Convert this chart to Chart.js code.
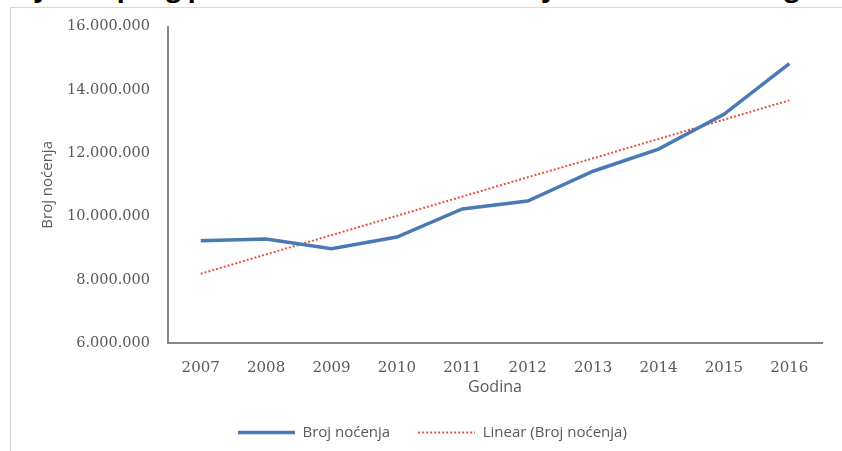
<!DOCTYPE html>
<html>
<head>
<meta charset="utf-8">
<script src="https://cdn.jsdelivr.net/npm/chart.js@4/dist/chart.umd.min.js"></script>
<style>
  body { margin: 0; background: #fff; overflow: hidden; }
  #wrap { position: relative; width: 842px; height: 451px; overflow: hidden; }
  #frame { position: absolute; left: 10px; top: 7px; width: 900px; height: 500px; border: 1px solid #d9d9d9; }
  #naslov { position: absolute; left: -120px; width: 1060px; top: -31px; line-height: 30px;
    text-align: center; font: bold 26px 'Open Sans', sans-serif; color: #000; white-space: nowrap; }
  canvas { position: absolute; left: 0; top: 0; }
</style>
</head>
<body>
<div id="wrap">
  <div id="frame"></div>
  <div id="naslov">Kretanje ukupnog prometa turista u Hrvatskoj od 2007. do 2016. godine</div>
  <canvas id="grafNocenja" width="842" height="451"></canvas>
</div>
<script>
// godine i broj noćenja (očitano sa slike)
const godine = ['2007', '2008', '2009', '2010', '2011', '2012', '2013', '2014', '2015', '2016'];
const brojNocenja = [9230000, 9290000, 8980000, 9350000, 10240000, 10490000, 11430000, 12130000, 13230000, 14830000];
// linearni trend kako ga crta Excel
const linearni = [8190000, 8800000, 9410000, 10020000, 10630000, 11240000, 11840000, 12450000, 13060000, 13670000];

const sivo = '#595959';
const crvena = '#e8503f';

// tockasta linija za legendu
const tockice = document.createElement('canvas');
tockice.width = 57;
tockice.height = 4;
const tc = tockice.getContext('2d');
tc.strokeStyle = crvena;
tc.lineWidth = 2;
tc.setLineDash([2, 2]);
tc.beginPath();
tc.moveTo(0, 2);
tc.lineTo(57, 2);
tc.stroke();

const smjestiLegendu = {
  id: 'smjestiLegendu',
  afterLayout(chart) {
    const lg = chart.legend;
    lg.left = 210;
    lg.top = 397;
    lg.right = 842;
    lg.bottom = 451;
  }
};

const ctx = document.getElementById('grafNocenja').getContext('2d');
new Chart(ctx, {
  type: 'line',
  data: {
    labels: godine,
    datasets: [{
      label: 'Broj noćenja',
      data: brojNocenja,
      borderColor: '#4a7ab5',
      borderWidth: 3.5,
      pointRadius: 0,
      pointStyle: 'line',
      tension: 0,
      fill: false
    }, {
      label: 'Linear (Broj noćenja)',
      data: linearni,
      borderColor: crvena,
      borderWidth: 2,
      borderDash: [2, 2],
      pointRadius: 0,
      pointStyle: tockice,
      tension: 0,
      fill: false
    }]
  },
  options: {
    responsive: false,
    animation: false,
    layout: { padding: { left: 0, right: 20, top: 25, bottom: 16 } },
    plugins: {
      title: { display: false },
      tooltip: { enabled: false },
      legend: {
        position: 'bottom',
        align: 'start',
        maxHeight: 30,
        labels: {
          usePointStyle: true,
          pointStyleWidth: 57,
          padding: 28,
          color: sivo,
          font: { family: "'Open Sans', sans-serif", size: 15 }
        }
      }
    },
    scales: {
      x: {
        offset: true,
        grid: { display: false, drawTicks: false },
        border: { color: '#868686', width: 2 },
        ticks: { color: sivo, padding: 16, font: { family: "'DejaVu Serif', serif", size: 15 } },
        title: { display: true, text: 'Godina', color: sivo, padding: { top: 0, bottom: 8 },
          font: { family: "'Open Sans', sans-serif", size: 16 } },
        afterFit(scale) { scale.height = 62; }
      },
      y: {
        min: 6000000,
        max: 16000000,
        grid: { display: false, drawTicks: false },
        border: { color: '#868686', width: 2 },
        ticks: {
          stepSize: 2000000,
          color: sivo,
          padding: 18,
          font: { family: "'DejaVu Serif', serif", size: 14.5 },
          callback: v => v.toString().replace(/\B(?=(\d{3})+(?!\d))/g, '.')
        },
        title: { display: true, text: 'Broj noćenja', color: sivo, padding: { top: 39, bottom: 0 },
          font: { family: "'Open Sans', sans-serif", size: 15 } },
        afterFit(scale) { scale.width = 168; }
      }
    }
  },
  plugins: [smjestiLegendu]
});
</script>
</body>
</html>
